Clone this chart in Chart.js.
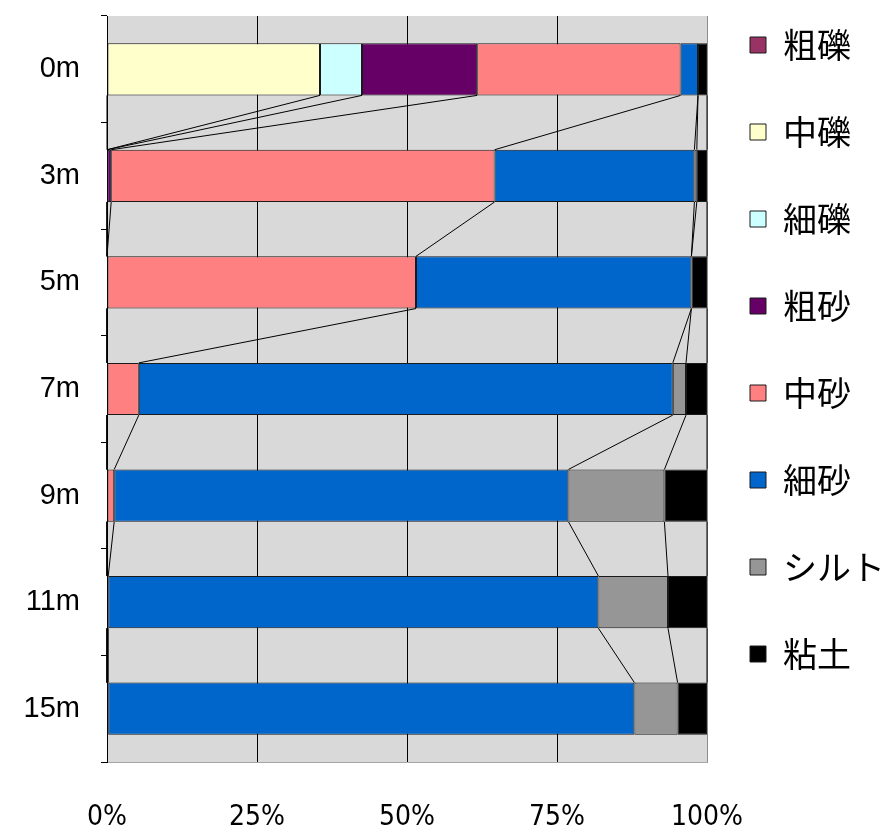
<!DOCTYPE html>
<html>
<head>
<meta charset="utf-8">
<script src="https://cdn.jsdelivr.net/npm/chart.js@4.4.1/dist/chart.umd.min.js"></script>
<style>
  html, body { margin: 0; padding: 0; background: #fff; }
  canvas { display: block; }
</style>
</head>
<body>
<canvas id="grain-chart" width="887" height="834"></canvas>
<script>
// grain size composition (%) by depth
const depths = ['0m', '3m', '5m', '7m', '9m', '11m', '15m'];
const coarseGravel = [0, 0, 0, 0, 0, 0, 0];
const mediumGravel = [35.5, 0, 0, 0, 0, 0, 0];
const fineGravel   = [7.0, 0, 0, 0, 0, 0, 0];
const coarseSand   = [19.2, 0.7, 0, 0, 0, 0, 0];
const mediumSand   = [33.9, 63.9, 51.5, 5.3, 1.2, 0.2, 0.2];
const fineSand     = [2.9, 33.3, 45.9, 89.0, 75.7, 81.7, 87.7];
const silt         = [0, 0.4, 0, 2.2, 16.0, 11.6, 7.2];
const clay         = [1.5, 1.7, 2.6, 3.5, 7.1, 6.5, 4.9];

const seriesNames = ['粗礫', '中礫', '細礫', '粗砂', '中砂', '細砂', 'シルト', '粘土'];
const seriesValues = [coarseGravel, mediumGravel, fineGravel, coarseSand, mediumSand, fineSand, silt, clay];
const seriesColors = ['#993366', '#ffffcc', '#ccffff', '#660066', '#ff8080', '#0066cc', '#969696', '#000000'];
const percentTicks = [0, 25, 50, 75, 100];

// gray plot area + legend placement
const plotBackground = {
  id: 'plotBackground',
  afterLayout(chart) {
    const lg = chart.legend;
    lg.left = 697;
    lg.right = 887;
    lg.top = -25;
    lg.bottom = 809;
  },
  beforeDraw(chart) {
    const { ctx, chartArea: a } = chart;
    ctx.save();
    ctx.fillStyle = '#d9d9d9';
    ctx.fillRect(a.left, a.top, a.right - a.left, a.bottom - a.top);
    ctx.restore();
  }
};

// connect each segment end to the same segment end on the next bar
const seriesLines = {
  id: 'seriesLines',
  afterDatasetsDraw(chart) {
    const ctx = chart.ctx;
    const xScale = chart.scales.x;
    const totals = depths.map(() => 0);
    ctx.save();
    ctx.strokeStyle = '#000';
    ctx.lineWidth = 1;
    chart.data.datasets.forEach((ds, d) => {
      const meta = chart.getDatasetMeta(d);
      const ends = ds.data.map((v, i) => (totals[i] += v));
      for (let i = 0; i < ends.length - 1; i++) {
        const upper = meta.data[i];
        const lower = meta.data[i + 1];
        ctx.beginPath();
        ctx.moveTo(xScale.getPixelForValue(ends[i]), upper.y + upper.height / 2);
        ctx.lineTo(xScale.getPixelForValue(ends[i + 1]), lower.y - lower.height / 2);
        ctx.stroke();
      }
    });
    ctx.restore();
  }
};

new Chart(document.getElementById('grain-chart').getContext('2d'), {
  type: 'bar',
  data: {
    labels: depths,
    datasets: seriesNames.map((name, i) => ({
      label: name,
      data: seriesValues[i],
      backgroundColor: seriesColors[i],
      borderColor: '#1a1a1a',
      borderWidth: 1,
      borderSkipped: false,
      categoryPercentage: 0.49,
      barPercentage: 1
    }))
  },
  options: {
    indexAxis: 'y',
    responsive: false,
    animation: false,
    events: [],
    layout: { padding: { top: 16, left: 0, right: 0, bottom: 0 } },
    plugins: {
      tooltip: { enabled: false },
      legend: {
        position: 'right',
        align: 'start',
        maxWidth: 180,
        labels: {
          boxWidth: 16,
          boxHeight: 16,
          padding: 53,
          color: '#000',
          font: { family: '"Noto Sans CJK JP", sans-serif', size: 34 }
        }
      }
    },
    scales: {
      x: {
        stacked: true,
        min: 0,
        max: 100,
        afterFit(scale) {
          scale.height = 72;
          scale.paddingLeft = 0;
          scale.paddingRight = 0;
        },
        afterBuildTicks(scale) { scale.ticks = percentTicks.map(v => ({ value: v })); },
        ticks: {
          callback: v => v + '%',
          color: '#000',
          padding: 39,
          maxRotation: 0,
          font: { family: '"Liberation Sans Narrow", "DejaVu Sans Condensed", "Roboto Condensed", sans-serif', size: 28 }
        },
        grid: {
          drawTicks: false,
          color: ctx => (ctx.tick && ctx.tick.value === 100 ? '#8c8c8c' : '#000'),
          lineWidth: 1
        },
        border: { color: '#a6a6a6' }
      },
      y: {
        stacked: true,
        afterFit(scale) {
          scale.width = 107;
          scale.paddingTop = 0;
          scale.paddingBottom = 0;
        },
        ticks: {
          color: '#000',
          padding: 21,
          font: { family: '"Liberation Sans", Arial, sans-serif', size: 29 }
        },
        grid: {
          drawOnChartArea: false,
          tickLength: 6,
          color: '#000'
        },
        border: { color: '#000', width: 1 }
      }
    }
  },
  plugins: [plotBackground, seriesLines]
});
</script>
</body>
</html>
